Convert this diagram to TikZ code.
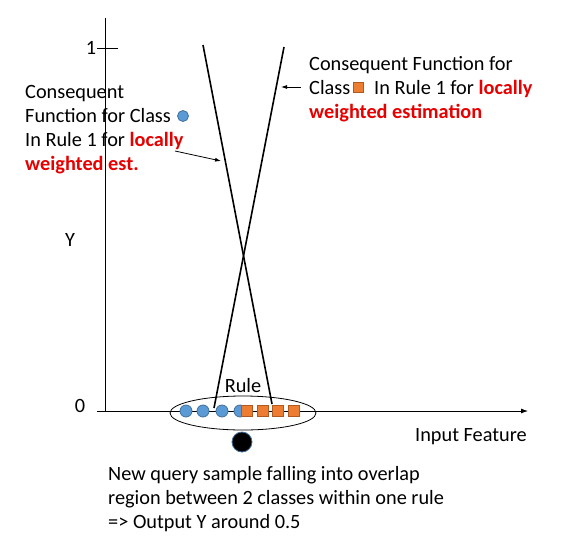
\documentclass[tikz,border=0pt]{standalone}
\usepackage{fontspec}
\setmainfont{Carlito}
\usepackage{xcolor}
\usetikzlibrary{shapes.geometric,arrows.meta}

\definecolor{clsblue}{HTML}{5B9BD5}
\definecolor{clsblueline}{HTML}{41719C}
\definecolor{clsorange}{HTML}{ED7D31}
\definecolor{clsorangeline}{HTML}{AE5A21}
\definecolor{hired}{HTML}{E60000}

\newcommand{\hl}[1]{\textcolor{hired}{\textbf{#1}}}

\begin{document}
\begin{tikzpicture}[x=1pt,y=-1pt,
    txt/.style={font=\fontsize{20.3}{24}\selectfont, align=left, inner sep=0pt, anchor=north west},
    bluedot/.style={circle, fill=clsblue, draw=clsblueline, line width=0.8pt, minimum size=12pt, inner sep=0pt},
    orangebox/.style={rectangle, fill=clsorange, draw=clsorangeline, line width=0.8pt, minimum size=11pt, inner sep=0pt},
    pointer/.style={-{Latex[length=6pt,width=4pt]}, line width=0.8pt}]
\useasboundingbox (0,0) rectangle (572,538);

% Axes
\coordinate (yTop) at (105,18);
\coordinate (org) at (105,411);
\coordinate (xStart) at (97,411);
\coordinate (xEnd) at (528,411);
\coordinate (tickL) at (97,48);
\coordinate (tickR) at (118,48);
\draw[line width=0.8pt] (org) -- (yTop);
\draw[-{Latex[length=7pt,width=5pt]}, line width=0.8pt] (xStart) -- (xEnd);
\draw[line width=0.8pt] (tickL) -- (tickR);
\node[txt, anchor=center] (one) at (91,48) {1};
\node[txt, anchor=center] (zero) at (80,406) {0};
\node[txt, anchor=center] (ylab) at (70,240) {Y};
\node[txt, anchor=west] (xlab) at (415,437) {Input Feature};

% Rule with its samples
\node[draw, ellipse, line width=0.8pt, minimum width=146pt, minimum height=34pt] (rule) at (243,413) {};
\node[txt, anchor=center] (rulelab) at (243,386) {Rule};
\foreach \x in {186,203,222,240}
  \node[bluedot] (c\x) at (\x,411) {};
\foreach \x in {247,263,278,294}
  \node[orangebox] (s\x) at (\x,411) {};

% Consequent functions
\coordinate (bTop) at (203,45);
\coordinate (bBot) at (272,404);
\coordinate (oTop) at (284,47);
\coordinate (oBot) at (214,408);
\draw[line width=1.6pt] (bTop) -- (bBot);
\draw[line width=1.6pt] (oTop) -- (oBot);

% Labels of the two functions
\node[txt] (bluetxt) at (25,85) {Consequent\\Function for Class\\In Rule 1 for \hl{locally}\\\hl{weighted est.}};
\node[bluedot, minimum size=11pt] (bluekey) at (183,116) {};
\coordinate (bArrS) at (175,151);
\coordinate (bArrE) at (221,161);
\draw[pointer] (bArrS) -- (bArrE);

\node[txt] (orangetxt) at (309,56) {Consequent Function for\\Class\hspace{0.95em} In Rule 1 for \hl{locally}\\\hl{weighted estimation}};
\node[orangebox, minimum size=10pt] (orangekey) at (358,87) {};
\coordinate (oArrS) at (301,87);
\coordinate (oArrE) at (281,87);
\draw[pointer] (oArrS) -- (oArrE);

% Query sample
\node[circle, fill=black, draw=clsblueline, line width=0.8pt, minimum size=20pt, inner sep=0pt] (query) at (242,442) {};
\node[txt] (querytxt) at (108,466) {New query sample falling into overlap\\region between 2 classes within one rule\\=> Output Y around 0.5};
\end{tikzpicture}
\end{document}
